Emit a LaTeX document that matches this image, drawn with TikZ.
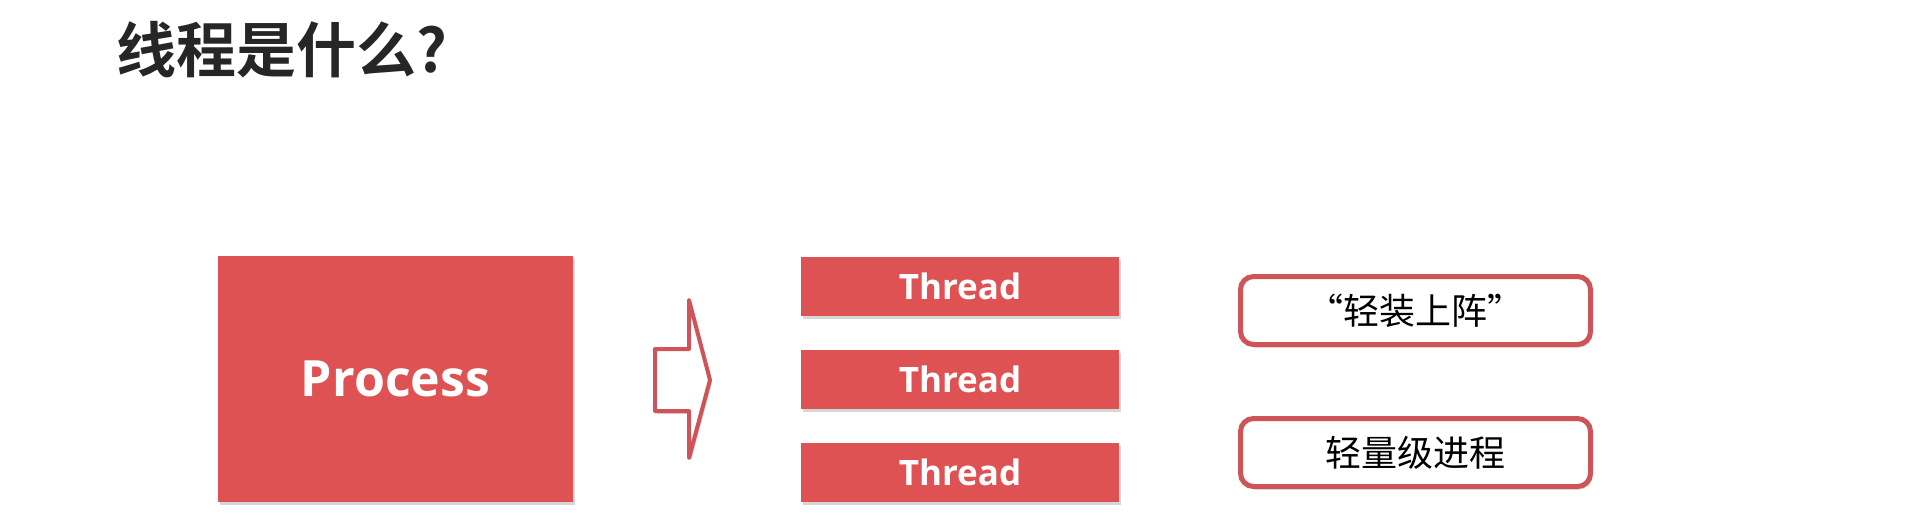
\documentclass[tikz,border=0pt]{standalone}
\usepackage{fontspec}
\setmainfont{Open Sans}
\newfontfamily\cjkfont{Noto Sans CJK SC}[BoldFont={Noto Sans CJK SC Bold}]
\usepackage{tikz}
\usetikzlibrary{positioning, shadows}
\usepackage{xcolor}
\definecolor{procred}{RGB}{222,82,84}
\definecolor{edgered}{RGB}{206,84,90}
\definecolor{titlegray}{RGB}{38,38,38}

\begin{document}
\begin{tikzpicture}[
    x=1pt, y=-1pt,
    boxshadow/.style={drop shadow={shadow xshift=2pt, shadow yshift=-3pt, opacity=0.35, fill=black!45}},
    procbox/.style={rectangle, fill=procred, text=white, inner sep=0pt, boxshadow,
                    minimum width=355pt, minimum height=246pt,
                    font=\bfseries\fontsize{50}{60}\selectfont},
    threadbox/.style={rectangle, fill=procred, text=white, inner sep=0pt, boxshadow,
                      minimum width=318pt, minimum height=59pt,
                      font=\bfseries\fontsize{35}{40}\selectfont},
    notebox/.style={rectangle, rounded corners=13pt, draw=edgered, line width=5pt,
                    fill=white, inner sep=0pt, boxshadow,
                    minimum width=350pt, minimum height=68pt,
                    font=\cjkfont\fontsize{36}{42}\selectfont},
    bigarrow/.style={draw=edgered, line width=4pt, fill=white, line join=round, boxshadow},
]
    \useasboundingbox[fill=white] (0,0) rectangle (1920,516);

    \node[anchor=base west, inner sep=0pt, text=titlegray,
          font=\cjkfont\bfseries\fontsize{60}{70}\selectfont] (title) at (116,73) {线程是什么?};

    \node[procbox] (proc) at (395.5,379) {Process};

    % hollow block arrow
    \draw[bigarrow] (655,349) -- (689,349) -- (689,300) -- (710,380)
        -- (689,458) -- (689,411) -- (655,411) -- cycle;

    \node[threadbox] (th1) at (960,286) {Thread};
    \node[threadbox, below=34pt of th1] (th2) {Thread};
    \node[threadbox, below=34pt of th2] (th3) {Thread};

    \node[notebox] (light) at (1415.5,310.5) {“轻装上阵”};
    \node[notebox, below=69pt of light] (lwp) {轻量级进程};
\end{tikzpicture}
\end{document}
